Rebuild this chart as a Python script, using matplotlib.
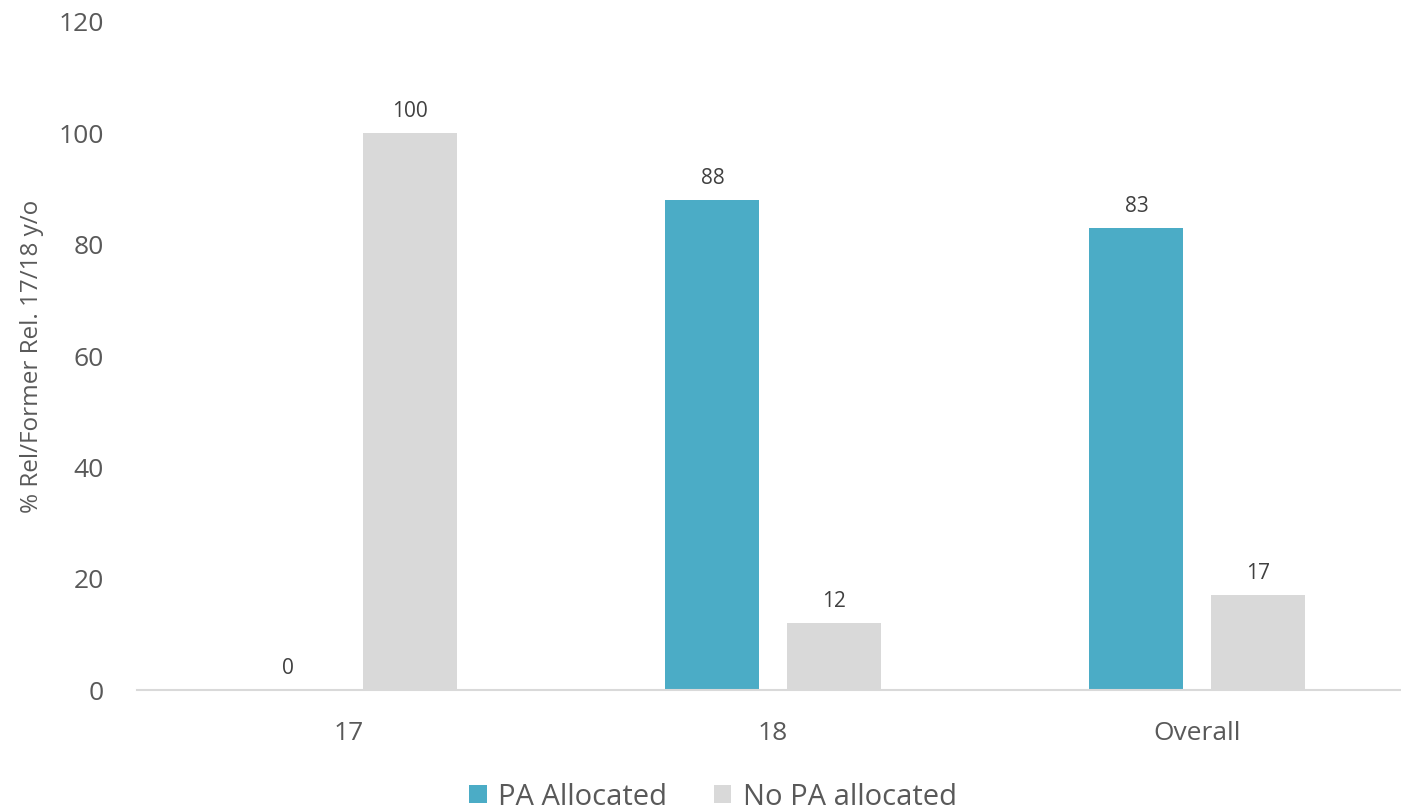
import numpy as np
import matplotlib.pyplot as plt

plt.rcParams['font.family'] = ['Open Sans', 'DejaVu Sans']

categories = ["17", "18", "Overall"]
pa_allocated = [0, 88, 83]
no_pa_allocated = [100, 12, 17]
series_names = ["PA Allocated", "No PA allocated"]

blue = "#4BACC6"
grey = "#D9D9D9"
text_col = "#595959"

fig = plt.figure(figsize=(14.01, 8.11), dpi=100)
ax = fig.add_axes([0.0978, 0.149, 1272 / 1401, 0.824])

x = np.arange(len(categories))
w = 0.222
off = 0.143

b1 = ax.bar(x - off, pa_allocated, w, color=blue, label=series_names[0])
b2 = ax.bar(x + off, no_pa_allocated, w, color=grey, label=series_names[1])

# value labels
for bars in (b1, b2):
    for rect in bars:
        h = rect.get_height()
        ax.annotate(f"{h:.0f}", (rect.get_x() + rect.get_width() / 2, h),
                    xytext=(0, 8), textcoords="offset points",
                    ha="center", va="bottom", fontsize=15, color="#404040")

ax.set_xlim(-0.5, 2.5)
ax.set_ylim(0, 120)
ax.set_yticks(range(0, 121, 20))
ax.set_xticks(x)
ax.set_xticklabels(categories)

for s in ["top", "right", "left"]:
    ax.spines[s].set_visible(False)
ax.spines["bottom"].set_color(grey)
ax.spines["bottom"].set_linewidth(1.5)

ax.tick_params(axis="both", length=0, labelsize=19, colors=text_col)
ax.tick_params(axis="y", pad=24)
ax.tick_params(axis="x", pad=22)

ax.set_ylabel("% Rel/Former Rel. 17/18 y/o", fontsize=17.5, color=text_col, labelpad=10)

fig.legend(loc="lower center", bbox_to_anchor=(0.509, -0.033), ncol=2, frameon=False,
           fontsize=21, labelcolor=text_col, handlelength=0.6, handleheight=0.6,
           handletextpad=0.4, columnspacing=1.6)

fig.savefig("out.png", dpi=100)
